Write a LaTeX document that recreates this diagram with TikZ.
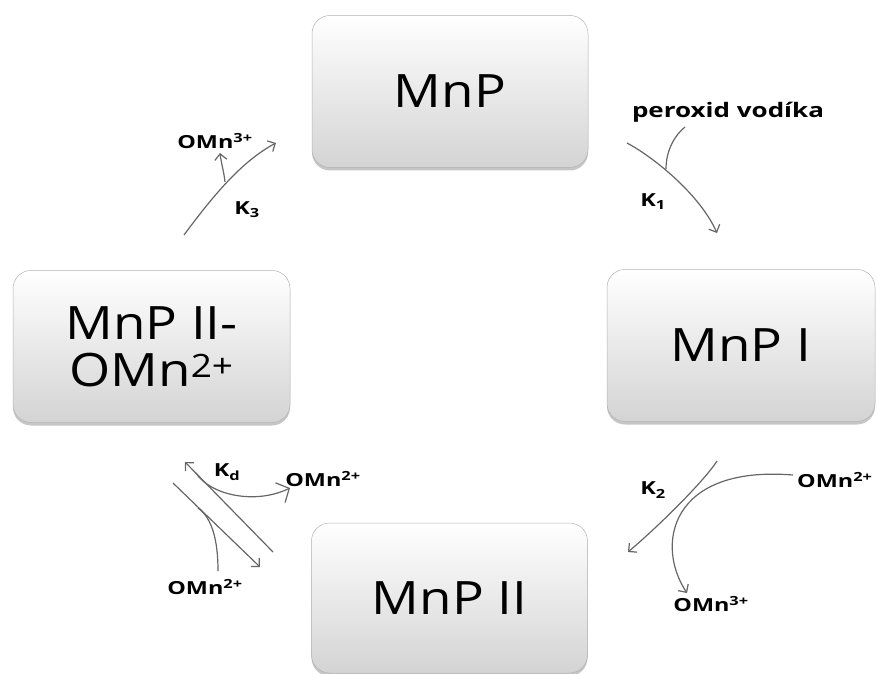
\documentclass[tikz,border=0pt]{standalone}
\usepackage{fontspec}
\setmainfont{Open Sans}
\newfontfamily\boxfont[FakeStretch=1.15]{Open Sans}
\newfontfamily\labfont[FakeStretch=1.3]{Open Sans}
\usetikzlibrary{arrows.meta,shadows}

\begin{document}
\begin{tikzpicture}[x=1pt, y=1pt,
    enzyme/.style={rounded corners=18pt, top color=white, bottom color=black!17, draw=black!30,
        line width=0.5pt, minimum width=276pt, minimum height=152pt, align=center, inner sep=0pt,
        font=\boxfont\fontsize{46}{47}\selectfont,
        drop shadow={shadow xshift=0pt, shadow yshift=-3pt, opacity=0.45}},
    chem/.style={font=\labfont\bfseries\fontsize{18}{18}\selectfont, inner sep=0pt},
    react/.style={draw=black!60, line width=1.2pt, -{Straight Barb[length=6pt, width=12pt]}},
    feed/.style={draw=black!60, line width=1.2pt}]
    \useasboundingbox (0,0) rectangle (877,673);

    % Enzyme states
    \node[enzyme] (mnp) at (450,581.5) {MnP};
    \node[enzyme, minimum width=268pt] (mnp1) at (741,327.5) {MnP I};
    \node[enzyme, minimum height=150pt] (mnp2) at (449.5,75) {MnP II};
    \node[enzyme, minimum width=277pt] (mnp2omn) at (151.5,326.5) {MnP II-\\OMn\textsuperscript{2+}};

    % Labels
    \node[chem, font=\labfont\bfseries\fontsize{20}{20}\selectfont] (h2o2) at (728,561) {peroxid vodíka};
    \node[chem] (k1) at (653,471) {K\textsubscript{1}};
    \node[chem] (k2) at (653,183) {K\textsubscript{2}};
    \node[chem] (k3) at (247,463) {K\textsubscript{3}};
    \node[chem] (kd) at (227,201) {K\textsubscript{d}};
    \node[chem] (omnIIIa) at (215,532) {OMn\textsuperscript{3+}};
    \node[chem, anchor=west] (omnIIa) at (797,193) {OMn\textsuperscript{2+}};
    \node[chem] (omnIIIb) at (711,69) {OMn\textsuperscript{3+}};
    \node[chem] (omnIIb) at (323,194) {OMn\textsuperscript{2+}};
    \node[chem] (omnIIc) at (205,86) {OMn\textsuperscript{2+}};

    % Step 1: MnP -> MnP I
    \coordinate (s1a) at (627,530);
    \coordinate (s1b) at (717,440);
    \coordinate (s1f) at (685,546);
    \coordinate (s1j) at (666,504);
    \draw[react] (s1a) .. controls (655,515) and (700,478) .. (s1b);
    \draw[feed] (s1f) .. controls (675,538) and (666,523) .. (s1j);

    % Step 2: MnP I -> MnP II
    \coordinate (s2a) at (717,212);
    \coordinate (s2b) at (628,121);
    \coordinate (s2f) at (793,198);
    \coordinate (s2e) at (687,80);
    \draw[react] (s2a) .. controls (705,193) and (660,148) .. (s2b);
    \draw[react] (s2f) .. controls (670,208) and (655,128) .. (s2e);

    % Step d: MnP II <-> MnP II-OMn
    \coordinate (sda) at (273,121);
    \coordinate (sdb) at (185,211);
    \coordinate (sdc) at (173,190);
    \coordinate (sdd) at (260,106);
    \coordinate (sdj) at (196,200);
    \coordinate (sdo) at (290,185);
    \coordinate (sdf) at (218,102);
    \coordinate (sdk) at (198,165);
    \draw[react] (sda) -- (sdb);
    \draw[react] (sdc) -- (sdd);
    \draw[feed, -{Straight Barb[length=10pt, width=22pt]}] (sdj) .. controls (210,178) and (255,168) .. (sdo);
    \draw[feed] (sdf) .. controls (218,133) and (212,155) .. (sdk);

    % Step 3: MnP II-OMn -> MnP
    \coordinate (s3a) at (184,438);
    \coordinate (s3b) at (276,530);
    \coordinate (s3j) at (225,491);
    \coordinate (s3e) at (220,520);
    \draw[react] (s3a) .. controls (210,473) and (240,511) .. (s3b);
    \draw[react] (s3j) .. controls (224,501) and (221,511) .. (s3e);
\end{tikzpicture}
\end{document}
